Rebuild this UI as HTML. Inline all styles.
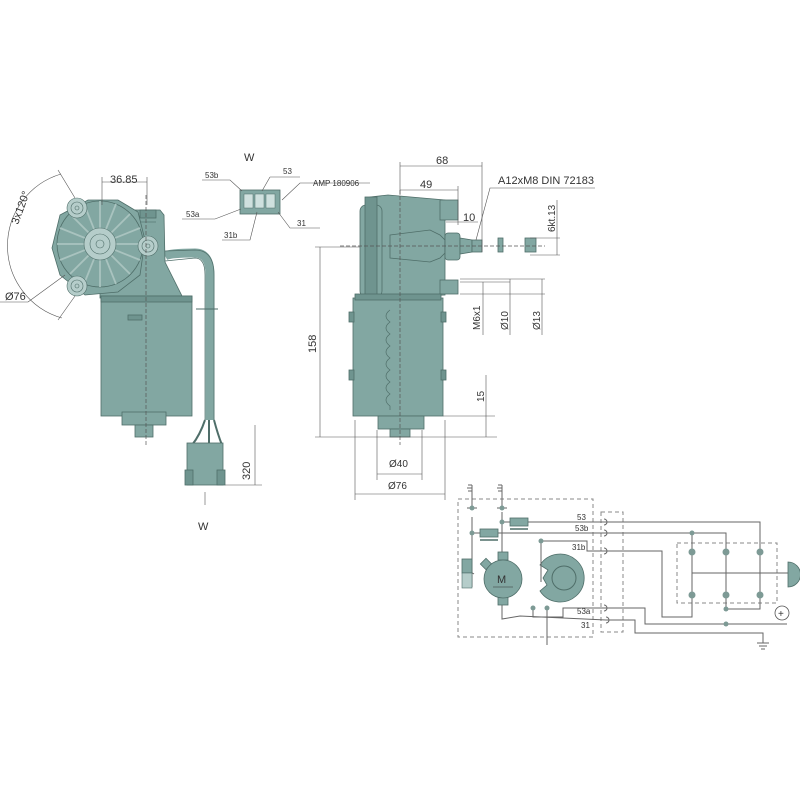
<!DOCTYPE html>
<html><head><meta charset="utf-8"><style>
html,body{margin:0;padding:0;background:#fff}
svg{display:block}
text{font-family:"Liberation Sans",sans-serif;fill:#333}
</style></head><body>
<svg width="800" height="800" viewBox="0 0 800 800" xmlns="http://www.w3.org/2000/svg">
<defs>
<style>
.f{fill:#82a7a2;stroke:#4f6e69;stroke-width:0.8}
.d{fill:#6f948f;stroke:#4f6e69;stroke-width:0.8}
.l{fill:#b5cdca;stroke:#4f6e69;stroke-width:0.6}
.dim{stroke:#555;stroke-width:0.6;fill:none}
.c{stroke:#555;stroke-width:0.7;fill:none;stroke-dasharray:4 2}
.w{stroke:#666;stroke-width:1;fill:none}
.db{stroke:#888;stroke-width:1;fill:none;stroke-dasharray:4 3}
.n{fill:#7d9a95}
</style>
</defs>

<!-- LEFT VIEW -->
<path d="M165 256 Q170 253 195 253 Q210 253 210 275 L210 420" stroke="#82a7a2" stroke-width="9" fill="none"/>
<path d="M165 251 L195 250 Q214 250 214 275 L214 420 M165 261 L195 258 Q205 258 205 275 L205 420" stroke="#4f6e69" stroke-width="0.7" fill="none"/>
<line x1="196" y1="309" x2="218" y2="309" stroke="#4f6e69" stroke-width="1"/>
<path d="M205 420 Q200 435 192 445 M209 420 L209 445 M214 420 Q218 435 222 445" stroke="#4f6e69" stroke-width="2" fill="none"/>
<rect x="187" y="443" width="36" height="42" class="f"/>
<rect x="185" y="470" width="8" height="15" class="d"/><rect x="217" y="470" width="8" height="15" class="d"/>
<path d="M135 210 L160 210 L164 215 L165 262 L183 298 L100 298 L100 270 Z" class="f"/>
<rect x="140" y="210" width="16" height="8" class="d"/>
<line x1="140" y1="222" x2="156" y2="222" stroke="#4f6e69" stroke-width="0.6"/>
<rect x="101" y="296" width="91" height="120" class="f"/>
<rect x="101" y="296" width="91" height="6" class="d"/>
<rect x="128" y="315" width="14" height="5" class="d"/>
<rect x="122" y="412" width="44" height="13" class="f"/>
<rect x="135" y="425" width="18" height="12" class="f"/>
<path d="M60 215 L88 200 L118 200 L138 212 L145 240 L140 275 L118 292 L85 295 L60 275 L52 248 Z" class="f"/>
<circle cx="100" cy="244" r="43" class="f"/>
<g stroke="#a9c3bf" stroke-width="1.8">
<line x1="100" y1="201" x2="100" y2="287"/><line x1="57" y1="244" x2="143" y2="244"/>
<line x1="70" y1="214" x2="130" y2="274"/><line x1="130" y1="214" x2="70" y2="274"/>
<line x1="84" y1="204" x2="116" y2="284"/><line x1="116" y1="204" x2="84" y2="284"/>
<line x1="60" y1="228" x2="140" y2="260"/><line x1="140" y1="228" x2="60" y2="260"/>
</g>
<circle cx="100" cy="244" r="16" class="l"/><circle cx="100" cy="244" r="10" class="l"/><circle cx="100" cy="244" r="4" class="l"/>
<g class="l"><circle cx="77" cy="208" r="10"/><circle cx="77" cy="208" r="6"/><circle cx="77" cy="208" r="2"/>
<circle cx="148" cy="246" r="10"/><circle cx="148" cy="246" r="6"/><circle cx="148" cy="246" r="2"/>
<circle cx="77" cy="286" r="10"/><circle cx="77" cy="286" r="6"/><circle cx="77" cy="286" r="2"/></g>
<line x1="146" y1="195" x2="146" y2="445" class="c"/>
<line x1="102" y1="182" x2="147" y2="182" class="dim"/>
<line x1="102" y1="177" x2="102" y2="205" class="dim"/><line x1="147" y1="177" x2="147" y2="205" class="dim"/>
<text x="110" y="183" font-size="11">36.85</text>
<path d="M61 174 A75 75 0 0 0 62 318" class="dim"/>
<line x1="58" y1="170" x2="75" y2="198" class="dim"/><line x1="58" y1="320" x2="75" y2="296" class="dim"/>
<text transform="translate(18 225) rotate(-70)" font-size="11">3x120°</text>
<line x1="0" y1="302" x2="28" y2="302" class="dim"/><line x1="28" y1="302" x2="65" y2="275" class="dim"/>
<text x="5" y="300" font-size="11">Ø76</text>
<line x1="255" y1="425" x2="255" y2="485" class="dim"/><line x1="225" y1="485" x2="262" y2="485" class="dim"/>
<text transform="translate(250 480) rotate(-90)" font-size="11">320</text>
<text x="244" y="161" font-size="11">W</text>
<text x="198" y="530" font-size="11">W</text>
<line x1="205" y1="492" x2="205" y2="505" class="dim"/>
<rect x="240" y="190" width="40" height="24" class="f"/>
<g fill="#cfe0de" stroke="#4f6e69" stroke-width="0.5"><rect x="244" y="194" width="9" height="14"/><rect x="255" y="194" width="9" height="14"/><rect x="266" y="194" width="9" height="14"/></g>
<g class="dim"><polyline points="202,180 230,180 242,191"/><polyline points="270,177 300,177"/><polyline points="270,177 262,191"/>
<polyline points="282,200 300,183 370,183"/><polyline points="182,219 215,219 241,209"/><polyline points="278,212 290,228 320,228"/><polyline points="222,240 250,240 257,212"/></g>
<g font-size="8"><text x="205" y="178">53b</text><text x="283" y="174">53</text><text x="313" y="186">AMP 180906</text><text x="186" y="217">53a</text><text x="297" y="226">31</text><text x="224" y="238">31b</text></g>

<!-- RIGHT VIEW -->
<path d="M370 197 L388 195 L445 200 L445 295 L370 298 L362 285 L362 210 Z" class="f"/>
<rect x="360" y="205" width="22" height="92" rx="6" class="f"/>
<rect x="365" y="197" width="12" height="100" class="d"/>
<rect x="440" y="200" width="18" height="20" class="f"/>
<rect x="440" y="280" width="18" height="14" class="f"/>
<path d="M390 235 L430 230 L440 235 L445 240 L445 253 L440 258 L430 262 L390 258 Z" fill="none" stroke="#4f6e69" stroke-width="0.8"/>
<rect x="445" y="233" width="15" height="27" rx="3" class="f"/>
<path d="M460 238 L472 240 L472 252 L460 254 Z" class="f"/>
<rect x="472" y="240" width="10" height="12" class="f"/>
<rect x="498" y="238" width="5" height="14" class="f"/>
<rect x="525" y="238" width="11" height="14" class="f"/>
<line x1="340" y1="246" x2="545" y2="246" class="c"/>
<rect x="353" y="298" width="90" height="118" class="f"/>
<rect x="355" y="294" width="86" height="6" class="d"/>
<rect x="349" y="312" width="5" height="10" class="d"/><rect x="441" y="312" width="5" height="10" class="d"/>
<rect x="349" y="370" width="5" height="10" class="d"/><rect x="441" y="370" width="5" height="10" class="d"/>
<rect x="378" y="416" width="46" height="13" class="f"/><rect x="390" y="429" width="20" height="8" class="f"/>
<path d="M390 310 q-8 6 0 12 q-8 6 0 12 q-8 6 0 12 q-8 6 0 12 q-8 6 0 12 q-8 6 0 12 q-8 6 0 12 q-8 6 0 12 L390 410" fill="none" stroke="#4f6e69" stroke-width="0.7"/>
<line x1="400" y1="190" x2="400" y2="445" class="c"/>
<g class="dim">
<line x1="400" y1="166" x2="482" y2="166"/><line x1="400" y1="162" x2="400" y2="195"/><line x1="482" y1="162" x2="482" y2="252"/>
<line x1="400" y1="190" x2="458" y2="190"/><line x1="458" y1="186" x2="458" y2="225"/>
<line x1="446" y1="222" x2="478" y2="222"/>
<polyline points="476,240 490,188 595,188"/>
<line x1="557" y1="200" x2="557" y2="255"/><line x1="530" y1="238" x2="560" y2="238"/><line x1="530" y1="255" x2="560" y2="255"/>
<line x1="320" y1="247" x2="320" y2="437"/><line x1="315" y1="247" x2="360" y2="247"/><line x1="315" y1="437" x2="497" y2="437"/>
<line x1="460" y1="279" x2="545" y2="279"/><line x1="460" y1="294" x2="545" y2="294"/><line x1="460" y1="282" x2="510" y2="282"/>
<line x1="483" y1="282" x2="483" y2="335"/><line x1="510" y1="279" x2="510" y2="335"/><line x1="542" y1="279" x2="542" y2="335"/>
<line x1="486" y1="375" x2="486" y2="437"/><line x1="443" y1="416" x2="495" y2="416"/>
<line x1="377" y1="430" x2="377" y2="480"/><line x1="422" y1="430" x2="422" y2="480"/><line x1="377" y1="474" x2="422" y2="474"/>
<line x1="355" y1="420" x2="355" y2="500"/><line x1="445" y1="420" x2="445" y2="500"/><line x1="355" y1="494" x2="445" y2="494"/>
</g>
<g font-size="11"><text x="436" y="164">68</text><text x="420" y="188">49</text><text x="463" y="221">10</text>
<text x="498" y="184">A12xM8 DIN 72183</text>
<text transform="translate(555 232) rotate(-90)" font-size="10">6kt.13</text>
<text transform="translate(316 353) rotate(-90)">158</text>
<text transform="translate(480 330) rotate(-90)" font-size="10">M6x1</text>
<text transform="translate(508 330) rotate(-90)" font-size="10">Ø10</text>
<text transform="translate(540 330) rotate(-90)" font-size="10">Ø13</text>
<text transform="translate(484 402) rotate(-90)" font-size="10">15</text>
<text x="389" y="467" font-size="10">Ø40</text><text x="388" y="489" font-size="10">Ø76</text></g>

<!-- SCHEMATIC -->
<rect x="458" y="499" width="135" height="138" class="db"/>
<rect x="601" y="512" width="22" height="120" class="db"/>
<rect x="677" y="543" width="100" height="60" class="db"/>
<path d="M540 565 A24 24 0 1 1 540 591 L547 585 L543 578 L548 570 Z" class="f"/>
<circle cx="564" cy="578" r="12" fill="none" stroke="#4f6e69" stroke-width="1"/>
<g class="w">
<path d="M472 485 v25 M467 508 h10 M472 517 v70 M474 574 l-8 -5"/>
<path d="M502 485 v25 M497 508 h10 M502 512 v40 M502 604 v10"/>
<polyline points="502,522 510,522"/><polyline points="528,522 760,522 760,595"/>
<polyline points="472,533 480,533"/><polyline points="497,533 726,533 726,609"/>
<polyline points="692,533 692,617 662,617 662,551 590,551 587,551 587,541 541,541 541,582"/>
<polyline points="533,608 533,617 563,617 563,608 645,608 645,624 787,624"/>
<polyline points="502,614 502,619 520,616 606,620 635,620 635,633 763,633 763,643"/>
<polyline points="547,608 547,645"/>
<polyline points="726,609 760,609 760,595"/>
<polyline points="692,573 788,573"/>
<path d="M757 643 h12 M759 646 h8 M761 649 h4"/>
</g>
<g fill="none" stroke="#666" stroke-width="1">
<path d="M604 519 a3 3 0 0 1 0 6 M604 530 a3 3 0 0 1 0 6 M604 548 a3 3 0 0 1 0 6 M604 605 a3 3 0 0 1 0 6 M606 617 a3 3 0 0 1 0 6"/>
</g>
<rect x="510" y="518" width="18" height="8" class="f"/><line x1="510" y1="529" x2="528" y2="529" stroke="#4f6e69" stroke-width="1.5"/>
<rect x="480" y="529" width="18" height="8" class="f"/><line x1="480" y1="540" x2="498" y2="540" stroke="#4f6e69" stroke-width="1.5"/>
<rect x="462" y="559" width="10" height="14" class="f"/><rect x="462" y="573" width="10" height="15" fill="#b5cdca" stroke="#4f6e69" stroke-width="0.6"/>
<rect x="482" y="560" width="8" height="8" class="f" transform="rotate(-45 486 564)"/>
<rect x="498" y="552" width="10" height="8" class="f"/><rect x="498" y="597" width="10" height="8" class="f"/>
<circle cx="503" cy="579" r="19" class="f"/>
<text x="497" y="583" font-size="11">M</text><line x1="493" y1="587" x2="513" y2="587" stroke="#333" stroke-width="0.6"/>
<g class="n"><circle cx="472" cy="508" r="2.5"/><circle cx="502" cy="508" r="2.5"/><circle cx="502" cy="522" r="2.5"/><circle cx="472" cy="533" r="2.5"/>
<circle cx="541" cy="541" r="2.5"/><circle cx="533" cy="608" r="2.5"/><circle cx="547" cy="608" r="2.5"/>
<circle cx="692" cy="533" r="2.5"/><circle cx="692" cy="552" r="3.5"/><circle cx="726" cy="552" r="3.5"/><circle cx="760" cy="552" r="3.5"/>
<circle cx="692" cy="595" r="3.5"/><circle cx="726" cy="595" r="3.5"/><circle cx="760" cy="595" r="3.5"/>
<circle cx="726" cy="609" r="2.5"/><circle cx="726" cy="624" r="2.5"/></g>
<path d="M788 562 A12 12 0 0 1 788 587 Z" class="f"/>
<circle cx="782" cy="613" r="7" fill="none" stroke="#555" stroke-width="0.8"/><text x="778" y="617" font-size="10">+</text>
<path d="M472 485 h-4 M472 488 h-5 M472 491 h-4 M502 485 h-4 M502 488 h-5 M502 491 h-4" stroke="#666"/>
<g font-size="8"><text x="577" y="520">53</text><text x="575" y="531">53b</text><text x="572" y="550">31b</text><text x="577" y="614">53a</text><text x="581" y="628">31</text></g>
</svg>
</body></html>
